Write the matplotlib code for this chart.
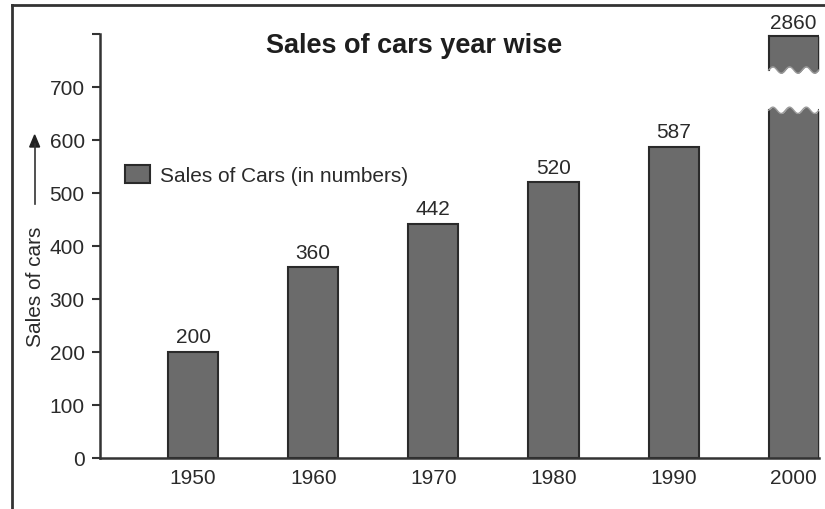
import numpy as np
import matplotlib.pyplot as plt
from matplotlib.lines import Line2D

years = ["1950", "1960", "1970", "1980", "1990", "2000"]
sales = [200, 360, 442, 520, 587, 2860]

# values above the axis top are drawn as a broken bar
break_low, break_high, axis_top = 656, 732, 796

plt.rcParams['font.family'] = ['Liberation Sans', 'DejaVu Sans']

bar_color = '#6b6b6b'
edge_color = '#2a2a2a'
text_color = '#2a2a2a'

fig = plt.figure(figsize=(8.25, 5.1), dpi=100)
ax = fig.add_axes([0.1212, 0.1, 0.8715, 0.8314])

x = np.arange(len(years))
width = 0.417

for xi, v in zip(x, sales):
    if v <= axis_top:
        ax.bar(xi, v, width, color=bar_color, edgecolor=edge_color, linewidth=1.5)
        ax.annotate(str(v), (xi, v), xytext=(0, 4), textcoords='offset points',
                    ha='center', va='bottom', fontsize=15, color=text_color)
    else:
        # lower piece with a wavy top, upper piece with a wavy bottom
        xs = np.linspace(xi - width / 2, xi + width / 2, 60)
        wave = 6 * np.sin((xs - xs[0]) / width * 3 * 2 * np.pi)
        ax.fill_between(xs, 0, break_low + wave, color=bar_color, linewidth=0)
        ax.fill_between(xs, break_high + wave, axis_top, color=bar_color, linewidth=0)
        for lo, hi in [(0, break_low), (break_high, axis_top)]:
            ax.plot([xs[0], xs[0]], [lo, hi], color=edge_color, lw=1.5)
            ax.plot([xs[-1], xs[-1]], [lo, hi], color=edge_color, lw=1.5)
        ax.plot([xs[0], xs[-1]], [axis_top, axis_top], color=edge_color, lw=1.5)
        ax.plot(xs, break_low + wave, color='#9a9a9a', lw=1)
        ax.plot(xs, break_high + wave, color='#9a9a9a', lw=1)
        ax.annotate(str(v), (xi, axis_top), xytext=(0, 3), textcoords='offset points',
                    ha='center', va='bottom', fontsize=15, color=text_color,
                    annotation_clip=False)

ax.set_xlim(-0.775, 5.21)
ax.set_ylim(0, 800)
ax.set_yticks(range(0, 801, 100))
ax.set_yticklabels([str(t) for t in range(0, 701, 100)] + [''])
ax.set_xticks(x)
ax.set_xticklabels(years)
ax.tick_params(axis='y', length=6, width=1.5, labelsize=15, colors='#333333', pad=5)
ax.tick_params(axis='x', length=0, labelsize=15, colors='#333333', pad=7)
for lbl in ax.get_xticklabels() + ax.get_yticklabels():
    lbl.set_color(text_color)

for side in ['top', 'right']:
    ax.spines[side].set_visible(False)
for side in ['left', 'bottom']:
    ax.spines[side].set_linewidth(1.8)
    ax.spines[side].set_color('#333333')

fig.text(0.502, 0.91, "Sales of cars year wise", ha='center', va='center',
         fontsize=19.5, fontweight='bold', color='#1e1e1e')

handle = plt.Rectangle((0, 0), 1, 1, facecolor=bar_color, edgecolor=edge_color, linewidth=1.5)
ax.legend([handle], ["Sales of Cars (in numbers)"], loc='center left',
          bbox_to_anchor=(0.151, 0.655), bbox_transform=fig.transFigure,
          frameon=False, fontsize=15, handlelength=1.2, handleheight=1.0,
          handletextpad=0.5, labelcolor=text_color, borderpad=0, borderaxespad=0)

# y axis caption with an upward arrow
fig.text(0.043, 0.437, "Sales of cars", rotation=90, ha='center', va='center',
         fontsize=15, color=text_color)
fig.add_artist(Line2D([0.042, 0.042], [1 - 205 / 510, 1 - 145 / 510],
                      color='#333333', lw=1.2))
fig.patches.append(plt.Polygon([[0.042 - 0.006, 1 - 148 / 510], [0.042 + 0.006, 1 - 148 / 510],
                                [0.042, 1 - 136 / 510]], closed=True, color='#222222',
                               transform=fig.transFigure, figure=fig))

# outer frame, left and top edges
fig.add_artist(Line2D([0.0145, 0.0145], [0, 0.988], color='#333333', lw=2))
fig.add_artist(Line2D([0.0145, 1.0], [0.988, 0.988], color='#333333', lw=2))

fig.savefig('out.png', dpi=100)
